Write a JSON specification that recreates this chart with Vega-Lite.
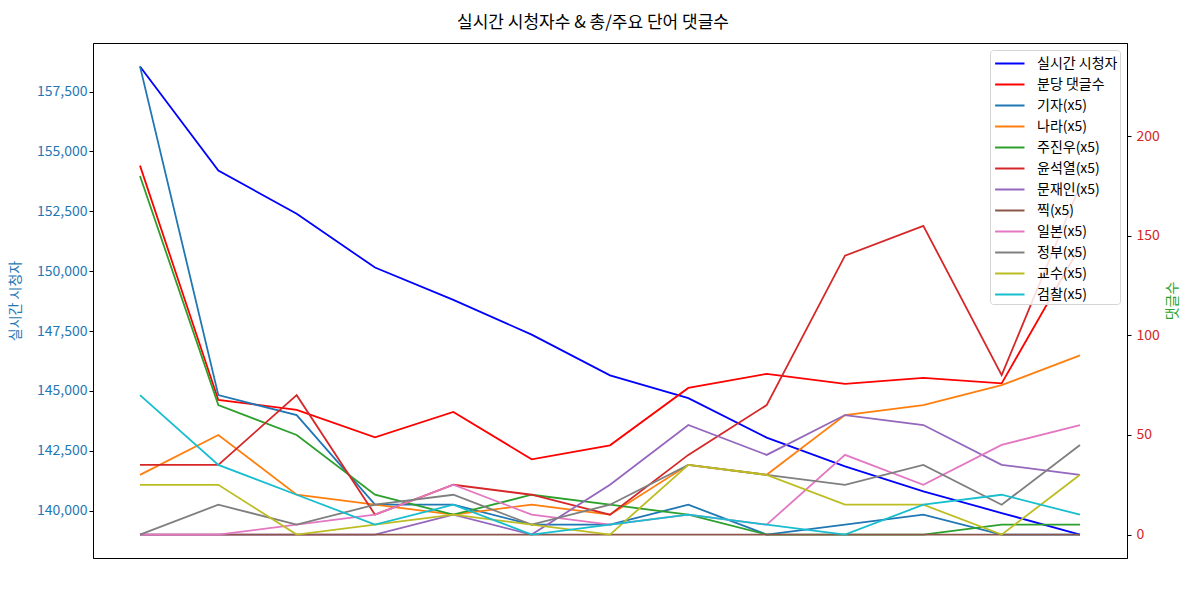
{
 "$schema": "https://vega.github.io/schema/vega-lite/v6.json",
 "width": 1034,
 "height": 515,
 "autosize": {"type": "none"},
 "padding": {"left": 93, "top": 43, "right": 62, "bottom": 34},
 "title": {"text": "실시간 시청자수 & 총/주요 단어 댓글수", "fontSize": 17, "fontWeight": "normal", "font": "Noto Sans CJK KR", "color": "#000000", "offset": 11, "dx": -17},
 "datasets": {
  "viewers": [
   {"x": 0, "series": "실시간 시청자", "value": 158550},
   {"x": 1, "series": "실시간 시청자", "value": 154200},
   {"x": 2, "series": "실시간 시청자", "value": 152400},
   {"x": 3, "series": "실시간 시청자", "value": 150150},
   {"x": 4, "series": "실시간 시청자", "value": 148800},
   {"x": 5, "series": "실시간 시청자", "value": 147350},
   {"x": 6, "series": "실시간 시청자", "value": 145650},
   {"x": 7, "series": "실시간 시청자", "value": 144700},
   {"x": 8, "series": "실시간 시청자", "value": 143050},
   {"x": 9, "series": "실시간 시청자", "value": 141850},
   {"x": 10, "series": "실시간 시청자", "value": 140800},
   {"x": 11, "series": "실시간 시청자", "value": 139900},
   {"x": 12, "series": "실시간 시청자", "value": 139000}
  ],
  "comments": [
   {"x": 0, "series": "분당 댓글수", "value": 185.2},
   {"x": 1, "series": "분당 댓글수", "value": 67.6},
   {"x": 2, "series": "분당 댓글수", "value": 62.6},
   {"x": 3, "series": "분당 댓글수", "value": 48.8},
   {"x": 4, "series": "분당 댓글수", "value": 61.6},
   {"x": 5, "series": "분당 댓글수", "value": 37.8},
   {"x": 6, "series": "분당 댓글수", "value": 44.8},
   {"x": 7, "series": "분당 댓글수", "value": 73.6},
   {"x": 8, "series": "분당 댓글수", "value": 80.7},
   {"x": 9, "series": "분당 댓글수", "value": 75.7},
   {"x": 10, "series": "분당 댓글수", "value": 78.7},
   {"x": 11, "series": "분당 댓글수", "value": 75.9},
   {"x": 12, "series": "분당 댓글수", "value": 144.5},
   {"x": 0, "series": "기자(x5)", "value": 235},
   {"x": 1, "series": "기자(x5)", "value": 70},
   {"x": 2, "series": "기자(x5)", "value": 60},
   {"x": 3, "series": "기자(x5)", "value": 15},
   {"x": 4, "series": "기자(x5)", "value": 15},
   {"x": 5, "series": "기자(x5)", "value": 5},
   {"x": 6, "series": "기자(x5)", "value": 5},
   {"x": 7, "series": "기자(x5)", "value": 15},
   {"x": 8, "series": "기자(x5)", "value": 0},
   {"x": 9, "series": "기자(x5)", "value": 5},
   {"x": 10, "series": "기자(x5)", "value": 10},
   {"x": 11, "series": "기자(x5)", "value": 0},
   {"x": 12, "series": "기자(x5)", "value": 0},
   {"x": 0, "series": "나라(x5)", "value": 30},
   {"x": 1, "series": "나라(x5)", "value": 50},
   {"x": 2, "series": "나라(x5)", "value": 20},
   {"x": 3, "series": "나라(x5)", "value": 15},
   {"x": 4, "series": "나라(x5)", "value": 10},
   {"x": 5, "series": "나라(x5)", "value": 15},
   {"x": 6, "series": "나라(x5)", "value": 10},
   {"x": 7, "series": "나라(x5)", "value": 35},
   {"x": 8, "series": "나라(x5)", "value": 30},
   {"x": 9, "series": "나라(x5)", "value": 60},
   {"x": 10, "series": "나라(x5)", "value": 65},
   {"x": 11, "series": "나라(x5)", "value": 75},
   {"x": 12, "series": "나라(x5)", "value": 90},
   {"x": 0, "series": "주진우(x5)", "value": 180},
   {"x": 1, "series": "주진우(x5)", "value": 65},
   {"x": 2, "series": "주진우(x5)", "value": 50},
   {"x": 3, "series": "주진우(x5)", "value": 20},
   {"x": 4, "series": "주진우(x5)", "value": 10},
   {"x": 5, "series": "주진우(x5)", "value": 20},
   {"x": 6, "series": "주진우(x5)", "value": 15},
   {"x": 7, "series": "주진우(x5)", "value": 10},
   {"x": 8, "series": "주진우(x5)", "value": 0},
   {"x": 9, "series": "주진우(x5)", "value": 0},
   {"x": 10, "series": "주진우(x5)", "value": 0},
   {"x": 11, "series": "주진우(x5)", "value": 5},
   {"x": 12, "series": "주진우(x5)", "value": 5},
   {"x": 0, "series": "윤석열(x5)", "value": 35},
   {"x": 1, "series": "윤석열(x5)", "value": 35},
   {"x": 2, "series": "윤석열(x5)", "value": 70},
   {"x": 3, "series": "윤석열(x5)", "value": 10},
   {"x": 4, "series": "윤석열(x5)", "value": 25},
   {"x": 5, "series": "윤석열(x5)", "value": 20},
   {"x": 6, "series": "윤석열(x5)", "value": 10},
   {"x": 7, "series": "윤석열(x5)", "value": 40},
   {"x": 8, "series": "윤석열(x5)", "value": 65},
   {"x": 9, "series": "윤석열(x5)", "value": 140},
   {"x": 10, "series": "윤석열(x5)", "value": 155},
   {"x": 11, "series": "윤석열(x5)", "value": 80},
   {"x": 12, "series": "윤석열(x5)", "value": 175},
   {"x": 0, "series": "문재인(x5)", "value": 0},
   {"x": 1, "series": "문재인(x5)", "value": 0},
   {"x": 2, "series": "문재인(x5)", "value": 0},
   {"x": 3, "series": "문재인(x5)", "value": 0},
   {"x": 4, "series": "문재인(x5)", "value": 10},
   {"x": 5, "series": "문재인(x5)", "value": 0},
   {"x": 6, "series": "문재인(x5)", "value": 25},
   {"x": 7, "series": "문재인(x5)", "value": 55},
   {"x": 8, "series": "문재인(x5)", "value": 40},
   {"x": 9, "series": "문재인(x5)", "value": 60},
   {"x": 10, "series": "문재인(x5)", "value": 55},
   {"x": 11, "series": "문재인(x5)", "value": 35},
   {"x": 12, "series": "문재인(x5)", "value": 30},
   {"x": 0, "series": "찍(x5)", "value": 0},
   {"x": 1, "series": "찍(x5)", "value": 0},
   {"x": 2, "series": "찍(x5)", "value": 0},
   {"x": 3, "series": "찍(x5)", "value": 0},
   {"x": 4, "series": "찍(x5)", "value": 0},
   {"x": 5, "series": "찍(x5)", "value": 0},
   {"x": 6, "series": "찍(x5)", "value": 0},
   {"x": 7, "series": "찍(x5)", "value": 0},
   {"x": 8, "series": "찍(x5)", "value": 0},
   {"x": 9, "series": "찍(x5)", "value": 0},
   {"x": 10, "series": "찍(x5)", "value": 0},
   {"x": 11, "series": "찍(x5)", "value": 0},
   {"x": 12, "series": "찍(x5)", "value": 0},
   {"x": 0, "series": "일본(x5)", "value": 0},
   {"x": 1, "series": "일본(x5)", "value": 0},
   {"x": 2, "series": "일본(x5)", "value": 5},
   {"x": 3, "series": "일본(x5)", "value": 10},
   {"x": 4, "series": "일본(x5)", "value": 25},
   {"x": 5, "series": "일본(x5)", "value": 10},
   {"x": 6, "series": "일본(x5)", "value": 5},
   {"x": 7, "series": "일본(x5)", "value": 10},
   {"x": 8, "series": "일본(x5)", "value": 5},
   {"x": 9, "series": "일본(x5)", "value": 40},
   {"x": 10, "series": "일본(x5)", "value": 25},
   {"x": 11, "series": "일본(x5)", "value": 45},
   {"x": 12, "series": "일본(x5)", "value": 55},
   {"x": 0, "series": "정부(x5)", "value": 0},
   {"x": 1, "series": "정부(x5)", "value": 15},
   {"x": 2, "series": "정부(x5)", "value": 5},
   {"x": 3, "series": "정부(x5)", "value": 15},
   {"x": 4, "series": "정부(x5)", "value": 20},
   {"x": 5, "series": "정부(x5)", "value": 5},
   {"x": 6, "series": "정부(x5)", "value": 15},
   {"x": 7, "series": "정부(x5)", "value": 35},
   {"x": 8, "series": "정부(x5)", "value": 30},
   {"x": 9, "series": "정부(x5)", "value": 25},
   {"x": 10, "series": "정부(x5)", "value": 35},
   {"x": 11, "series": "정부(x5)", "value": 15},
   {"x": 12, "series": "정부(x5)", "value": 45},
   {"x": 0, "series": "교수(x5)", "value": 25},
   {"x": 1, "series": "교수(x5)", "value": 25},
   {"x": 2, "series": "교수(x5)", "value": 0},
   {"x": 3, "series": "교수(x5)", "value": 5},
   {"x": 4, "series": "교수(x5)", "value": 10},
   {"x": 5, "series": "교수(x5)", "value": 5},
   {"x": 6, "series": "교수(x5)", "value": 0},
   {"x": 7, "series": "교수(x5)", "value": 35},
   {"x": 8, "series": "교수(x5)", "value": 30},
   {"x": 9, "series": "교수(x5)", "value": 15},
   {"x": 10, "series": "교수(x5)", "value": 15},
   {"x": 11, "series": "교수(x5)", "value": 0},
   {"x": 12, "series": "교수(x5)", "value": 30},
   {"x": 0, "series": "검찰(x5)", "value": 70},
   {"x": 1, "series": "검찰(x5)", "value": 35},
   {"x": 2, "series": "검찰(x5)", "value": 20},
   {"x": 3, "series": "검찰(x5)", "value": 5},
   {"x": 4, "series": "검찰(x5)", "value": 15},
   {"x": 5, "series": "검찰(x5)", "value": 0},
   {"x": 6, "series": "검찰(x5)", "value": 5},
   {"x": 7, "series": "검찰(x5)", "value": 10},
   {"x": 8, "series": "검찰(x5)", "value": 5},
   {"x": 9, "series": "검찰(x5)", "value": 0},
   {"x": 10, "series": "검찰(x5)", "value": 15},
   {"x": 11, "series": "검찰(x5)", "value": 20},
   {"x": 12, "series": "검찰(x5)", "value": 10}
  ]
 },
 "layer": [
  {
   "data": {"name": "viewers"},
   "mark": {"type": "line", "strokeWidth": 1.8},
   "encoding": {
    "x": {"field": "x", "type": "quantitative", "scale": {"domain": [-0.6, 12.6], "nice": false, "zero": false},
          "axis": {"labels": false, "ticks": false, "domain": false, "grid": false, "title": "Program [최배근]", "titleFontSize": 13, "titleFontWeight": "normal", "titleColor": "#000000", "titlePadding": 9}},
    "y": {"field": "value", "type": "quantitative", "scale": {"domain": [138022, 159528], "nice": false, "zero": false},
          "axis": {"orient": "left", "values": [140000, 142500, 145000, 147500, 150000, 152500, 155000, 157500], "format": ",.0f", "grid": false, "labelColor": "#1f77b4", "labelFontSize": 14, "tickSize": 4, "tickColor": "#000000", "domainColor": "#000000", "title": "실시간 시청자", "titleColor": "#1f77b4", "titleFontSize": 14, "titleFontWeight": "normal", "titlePadding": 14}},
    "color": {"field": "series", "type": "nominal",
              "scale": {"domain": ["실시간 시청자", "분당 댓글수", "기자(x5)", "나라(x5)", "주진우(x5)", "윤석열(x5)", "문재인(x5)", "찍(x5)", "일본(x5)", "정부(x5)", "교수(x5)", "검찰(x5)"],
                        "range": ["#0000ff", "#ff0000", "#1f77b4", "#ff7f0e", "#2ca02c", "#d62728", "#9467bd", "#8c564b", "#e377c2", "#7f7f7f", "#bcbd22", "#17becf"]},
              "legend": {"title": null, "orient": "top-right", "offset": 7, "zindex": 0, "fillColor": "rgba(255,255,255,0.85)", "strokeColor": "#d5d5d5", "cornerRadius": 3, "padding": 2, "symbolType": "M-0.8,0H2.0", "symbolSize": 441, "symbolStrokeWidth": 2, "labelFontSize": 14, "labelOffset": 22, "rowPadding": 2, "labelColor": "#000000"}}
   }
  },
  {
   "data": {"name": "comments"},
   "mark": {"type": "line", "strokeWidth": 1.8},
   "encoding": {
    "x": {"field": "x", "type": "quantitative", "axis": null},
    "y": {"field": "value", "type": "quantitative", "scale": {"domain": [-11.75, 246.75], "nice": false, "zero": false},
          "axis": {"orient": "right", "values": [0, 50, 100, 150, 200], "grid": false, "labelColor": "#d62728", "labelFontSize": 14, "labelPadding": 5, "tickSize": 4, "tickColor": "#000000", "domainColor": "#000000", "title": "댓글수", "titleColor": "#2ca02c", "titleFontSize": 14, "titleFontWeight": "normal", "titleAngle": 270, "titlePadding": 20}},
    "color": {"field": "series", "type": "nominal"}
   }
  }
 ],
 "resolve": {"scale": {"y": "independent"}},
 "config": {
  "font": "Noto Sans CJK KR",
  "view": {"stroke": "#000000", "strokeWidth": 1},
  "axis": {"labelFont": "Noto Sans CJK KR", "titleFont": "Noto Sans CJK KR"},
  "legend": {"labelFont": "Noto Sans CJK KR"}
 }
}
